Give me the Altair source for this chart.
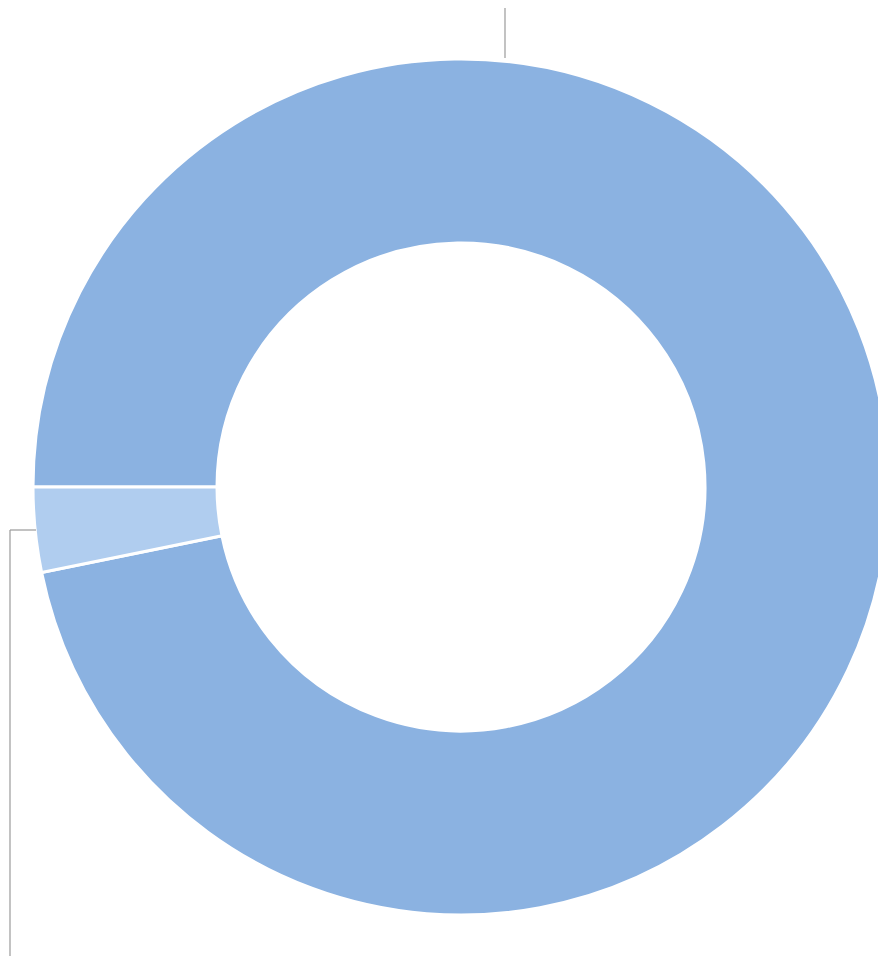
import math
import altair as alt
import pandas as pd

categories = ["Category A", "Category B"]
values = [96.8, 3.2]
colors = ["#8BB2E1", "#B0CDEF"]
order = [0, 1]

df = pd.DataFrame({"category": categories, "value": values, "order": order})

W, H = 870, 948
cx, cy = 453, 479
start = 1.5 * math.pi

donut = alt.Chart(df).mark_arc(
    innerRadius=244, outerRadius=428, stroke="white", strokeWidth=3
).encode(
    theta=alt.Theta("value:Q", stack=True,
                    scale=alt.Scale(range=[start, start + 2 * math.pi])),
    color=alt.Color("category:N", scale=alt.Scale(domain=categories, range=colors), legend=None),
    order=alt.Order("order:Q"),
    x=alt.value(cx),
    y=alt.value(cy),
)

line_color = "#9A9A9A"
top_leader = alt.Chart(pd.DataFrame({"k": [0]})).mark_rule(color=line_color, strokeWidth=1.2).encode(
    x=alt.value(497), y=alt.value(0), y2=alt.value(50)
)
left_h = alt.Chart(pd.DataFrame({"k": [0]})).mark_rule(color=line_color, strokeWidth=1.2).encode(
    x=alt.value(2), x2=alt.value(28), y=alt.value(522)
)
left_v = alt.Chart(pd.DataFrame({"k": [0]})).mark_rule(color=line_color, strokeWidth=1.2).encode(
    x=alt.value(2), y=alt.value(522), y2=alt.value(H)
)

chart = alt.layer(donut, top_leader, left_h, left_v).properties(
    width=W, height=H, padding=0, autosize=alt.AutoSizeParams(type="none")
).configure_view(stroke=None)

chart.save("out.html", embed_options={"renderer": "svg", "actions": False})
